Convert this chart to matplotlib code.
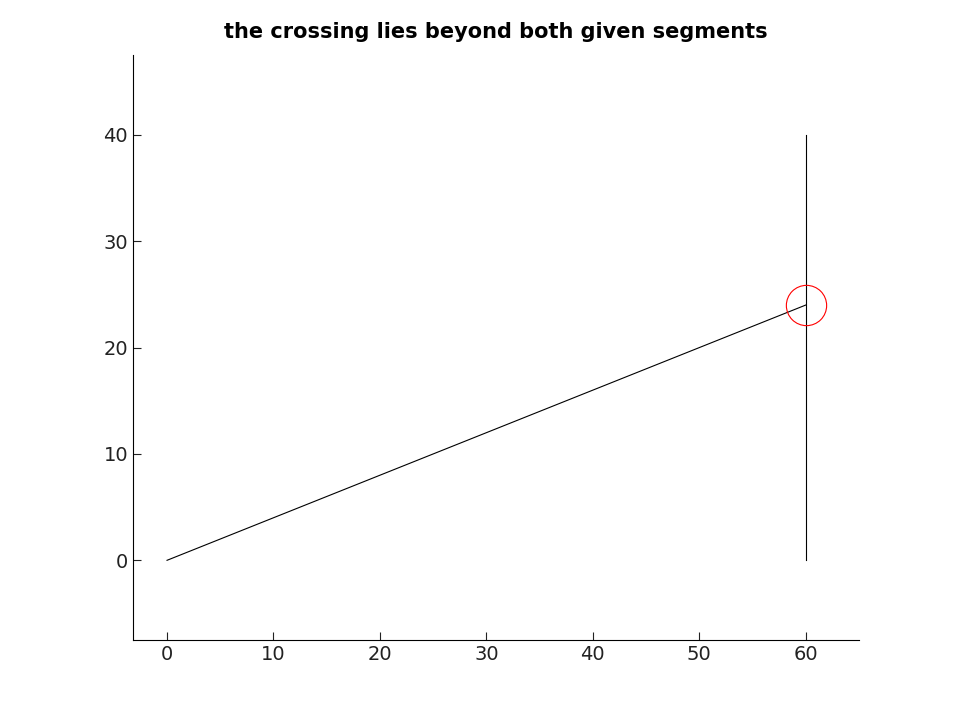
import matplotlib
matplotlib.use("Agg")
import matplotlib.pyplot as plt

# segment 1 and segment 2 end points, plus the crossing point
seg1_x = [0, 60]
seg1_y = [0, 24]
seg2_x = [60, 60]
seg2_y = [0, 40]
cross_x = [60]
cross_y = [24]

fig = plt.figure(figsize=(9.6, 7.2), dpi=100)
ax = fig.add_axes([0.1385, 0.111, 0.7563, 0.8125])

ax.plot(seg1_x, seg1_y, color="black", linewidth=0.8)
ax.plot(seg2_x, seg2_y, color="black", linewidth=0.8)
ax.plot(cross_x, cross_y, "o", markersize=29, markerfacecolor="none",
        markeredgecolor="red", markeredgewidth=0.8)

ax.set_xlim(-3.2, 65)
ax.set_ylim(-7.5, 47.5)
ax.set_xticks(range(0, 61, 10))
ax.set_yticks(range(0, 41, 10))
ax.spines["top"].set_visible(False)
ax.spines["right"].set_visible(False)
ax.tick_params(direction="in", labelsize=14, colors="#222222", length=6)
ax.set_title("the crossing lies beyond both given segments",
             fontsize=15, fontweight="bold", pad=12)

fig.savefig("out.png", dpi=100)
